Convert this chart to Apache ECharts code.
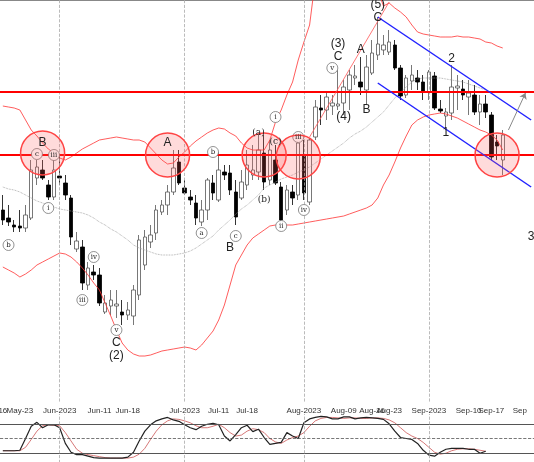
<!DOCTYPE html>
<html><head><meta charset="utf-8">
<script src="https://cdn.jsdelivr.net/npm/echarts@6/dist/echarts.min.js"></script>
<style>html,body{margin:0;padding:0;background:#fff}#c{width:534px;height:462px}</style>
</head><body><div id="c"></div>
<script>
// price units are measured on the chart's (inverted) price scale
var candles = [
[210,220,195,225],[218,222,205,226],[225,227,220,232],[226,228,210,232],[228,215,205,232],
[218,170,160,220],[178,167,160,185],[170,178,160,180],[185,197,180,200],[197,170,160,200],
[176,178,155,185],[183,195,175,200],[198,237,195,245],[249,241,232,252],[247,283,240,290],
[285,268,262,290],[272,275,265,280],[275,303,268,306],[312,303,295,314],[306,300,290,315],
[306,304,290,318],[312,315,300,325],[315,310,302,320],[316,290,285,325],[295,240,235,300],
[265,237,230,270],[242,235,225,248],[233,210,205,240],[212,205,200,215],[205,192,185,215],
[192,168,150,195],[162,183,150,185],[188,193,180,195],[197,200,190,205],[203,218,195,225],
[222,210,200,226],[210,180,178,220],[183,193,175,200],[200,170,152,202],[172,175,165,180],
[173,190,165,195],[192,217,180,225],[198,182,170,200],[185,165,150,190],[175,170,145,180],
[172,150,135,180],[153,182,135,190],[180,150,140,185],[160,183,145,185],[187,220,182,225],
[210,190,185,215],[192,198,185,205],[195,143,135,200],[155,193,140,200],[202,140,138,205],
[137,107,100,140],[108,110,95,125],[110,97,92,120],[106,103,95,115],[106,104,70,110],
[103,87,80,115],[90,75,70,110],[78,76,65,85],[82,87,57,95],[90,67,55,105],
[73,53,40,75],[55,44,17,60],[50,45,35,55],[52,42,30,55],[45,68,40,70],
[68,96,65,100],[95,78,75,98],[81,75,65,90],[78,82,70,90],[82,92,75,100],
[92,72,70,100],[76,108,72,110],[109,111,100,113],[116,112,108,130],[113,87,65,120],
[88,86,75,110],[89,95,80,100],[97,93,80,115],[95,112,85,115],[112,104,95,125],
[104,112,95,118],[115,157,112,160],[142,146,135,160],[160,135,130,175]
];
var upperBand = [106,107,108,110,120,130,136,143,149,153,158,160,157,153,149,146,143,140,139,138,
137,138,139,140,140,142,148,154,160,164,163,157,152,146,141,137,133,130,128,129,
133,136,143,148,150,150,150,140,122,110,95,82,60,42,25,-20,-20,-20,-20,-20,
-20,-20,-20,-20,-20,-20,-10,6,3,8,12,17,25,32,34,35,36,37,37,37,
36,37,37,38,39,42,43,46,48];
var lowerBand = [267,270,273,277,274,270,265,262,259,256,253,254,257,262,268,275,283,290,303,316,
330,343,350,354,356,356,355,353,351,350,349,348,347,348,350,345,338,331,320,305,
285,265,255,245,238,234,230,226,225,225,225,225,224,223,222,221,220,219,218,217,
216,214,212,210,208,205,198,185,175,162,148,136,125,120,117,115,114,113,114,116,
118,121,124,127,130,132,135,140,150];
var midBand = [187,189,190,192,195,198,201,203,205,207,209,210,211,212,213,215,218,222,225,229,
232,236,240,245,248,250,252,254,255,255,255,254,253,251,248,244,240,236,230,225,
220,214,209,205,200,195,188,185,182,179,177,175,172,170,167,163,159,155,151,147,
143,138,134,131,127,122,117,112,105,98,92,87,82,79,78,78,78,78,79,80,
81,82,84,86,88,90];
var stochK = [25,25,25,26,50,75,83,72,78,78,72,40,22,17,17,14,11,10,10,10,
10,10,12,22,45,65,78,86,90,93,88,85,78,72,68,75,79,81,78,55,
45,58,72,77,64,69,52,38,40,42,62,55,50,82,90,93,95,94,90,90,
94,94,90,92,93,92,91,89,80,65,52,50,48,40,26,16,14,22,28,30,
30,30,28,28,20,24];
var stochD = [25,25,25,25,32,48,65,76,78,77,76,62,45,28,20,17,15,13,11,10,
10,10,10,12,18,30,48,65,78,86,90,89,86,82,76,72,72,75,79,72,
62,55,57,65,70,68,62,50,43,40,47,52,55,62,75,86,91,93,93,92,
91,92,92,91,91,92,92,91,88,82,72,62,55,50,42,32,22,18,20,25,
28,29,29,28,26,24];
var tickIdx  = [0,3,10,17,22,32,38,43,53,60,65,68,75,82,86,91];
var tickText = ['16','May-23','Jun-2023','Jun-11','Jun-18','Jul-2023','Jul-11','Jul-18','Aug-2023','Aug-09','Aug-16','Aug-23','Sep-2023','Sep-10','Sep-17','Sep'];
var monthIdx = [10,32,53,75];
var levels = [92,155];
var zoneCircles = [[7,153],[29,155],[46,155],[52,157],[87,155]];
var waveLabels = [['B',7,143],['A',29,143],['C',20,343],['(2)',20,356],['B',40,248],['(3)',59,44],['C',59,57],
  ['A',63,50],['B',64,110],['(4)',60,117],['(5)',66,5],['C',66,18],['2',79,59],['1',78,133],['3',93,237]];
var subLabels = [['b',1,245,1],['c',6,154,1],['iii',9,155,1],['i',8,208,1],['iv',16,257,1],['iii',14,300,1],['v',20,330,1],
  ['a',35,233,1],['b',37,152,1],['c',41,236,1],['(a)',45,133,0],['(b)',46,200,0],['i',48,117,1],['(c)',48,142,0],
  ['ii',49,226,1],['iii',52,137,1],['iv',53,210,1],['v',58,68,1]];
var channel = [[[66,17],[93,120]],[[66,83],[93,187]]];
var waveLine = [[54,137],[68,2]];
var arrowLine = [[89,130],[92,93]];

var N = 94, cats = [];
for (var i=0;i<N;i++) cats.push(String(i));
var tickMap = {}; tickIdx.forEach(function(t,j){tickMap[t]=tickText[j];});

var vlines = monthIdx.map(function(m){return {xAxis:m};});
var chart = echarts.init(document.getElementById('c'));
chart.setOption({
  animation:false,
  grid:[{left:0,right:0,top:0,height:403,containLabel:false,outerBoundsMode:'none'},
        {left:0,right:0,top:414,height:49,containLabel:false,outerBoundsMode:'none'}],
  xAxis:[
    {type:'category',data:cats,gridIndex:0,boundaryGap:true,
     axisLine:{lineStyle:{color:'#888'}},
     axisTick:{interval:0,length:3,lineStyle:{color:'#888'},customValues:tickIdx},
     axisLabel:{interval:0,customValues:tickIdx,formatter:function(v){return tickMap[v]||'';},
       fontSize:8,color:'#333',fontFamily:'Liberation Sans',margin:4,hideOverlap:false,showMinLabel:true,showMaxLabel:true},
     splitLine:{show:false}},
    {type:'category',data:cats,gridIndex:1,position:'top',axisLine:{lineStyle:{color:'#555'}},
     axisTick:{show:false},axisLabel:{show:false}}
  ],
  yAxis:[{type:'value',gridIndex:0,inverse:true,min:0,max:403,show:false},
         {type:'value',gridIndex:1,min:0,max:100,show:false}],
  series:[
    {type:'line',data:upperBand,symbol:'none',lineStyle:{color:'#f33',width:0.8},silent:true,
     markLine:{symbol:'none',silent:true,label:{show:false},lineStyle:{color:'#aaa',type:'dashed',width:0.8},data:vlines}},
    {type:'line',data:lowerBand,symbol:'none',lineStyle:{color:'#f33',width:0.8},silent:true},
    {type:'line',data:midBand,symbol:'none',lineStyle:{color:'#999',width:0.8,type:'dotted'},silent:true},
    {type:'candlestick',data:candles,barWidth:4,
     itemStyle:{color:'#000',borderColor:'#000',color0:'#fff',borderColor0:'#555',borderWidth:0.8},
     markLine:{symbol:'none',silent:true,label:{show:false},data:
       levels.map(function(l){return {yAxis:l,lineStyle:{color:'#f00',width:2,type:'solid'}};})
       .concat(channel.map(function(c){return [{coord:c[0],lineStyle:{color:'#22f',width:1.5,type:'solid'}},{coord:c[1]}];}))
       .concat([[{coord:waveLine[0],lineStyle:{color:'#f55',width:0.8,type:'solid'}},{coord:waveLine[1]}]])
     },
     markPoint:{silent:true,data:subLabels.map(function(s){return {coord:[s[1],s[2]],symbol:'circle',symbolSize:s[3]?11:1,
       itemStyle:{color:s[3]?'#fff':'rgba(0,0,0,0)',borderColor:s[3]?'#777':'rgba(0,0,0,0)',borderWidth:0.8},
       label:{show:true,position:'inside',formatter:s[0],fontSize:s[3]?7:9,color:'#222',fontFamily:'DejaVu Serif'}};})
       .concat(waveLabels.map(function(s){return {coord:[s[1],s[2]],symbol:'circle',symbolSize:1,itemStyle:{color:'rgba(0,0,0,0)'},
       label:{show:true,position:'inside',formatter:s[0],fontSize:12,color:'#222',fontFamily:'Liberation Sans'}};}))}
    },
    {type:'line',data:[],
     markPoint:{silent:true,data:zoneCircles.map(function(c){return {coord:c,symbol:'circle',symbolSize:44,
       itemStyle:{color:'rgba(255,90,90,0.22)',borderColor:'#f44',borderWidth:1.5},label:{show:false}};})},
     markLine:{symbol:['none','arrow'],symbolSize:6,silent:true,label:{show:false},
       data:[[{coord:arrowLine[0],lineStyle:{color:'#888',width:1,type:'solid'}},{coord:arrowLine[1]}]]}
    },
    {type:'line',xAxisIndex:1,yAxisIndex:1,data:stochD,symbol:'none',lineStyle:{color:'#c55',width:0.8},
     markLine:{symbol:'none',silent:true,label:{show:false},data:[
       {yAxis:80,lineStyle:{color:'#555',width:1,type:'solid'}},
       {yAxis:50,lineStyle:{color:'#555',width:0.8,type:'dashed'}},
       {yAxis:20,lineStyle:{color:'#555',width:1,type:'solid'}}].concat(
       monthIdx.map(function(m){return {xAxis:m,lineStyle:{color:'#aaa',type:'dashed',width:0.8}};}))}},
    {type:'line',xAxisIndex:1,yAxisIndex:1,data:stochK,symbol:'none',lineStyle:{color:'#222',width:1.2}}
  ]
});
</script></body></html>
